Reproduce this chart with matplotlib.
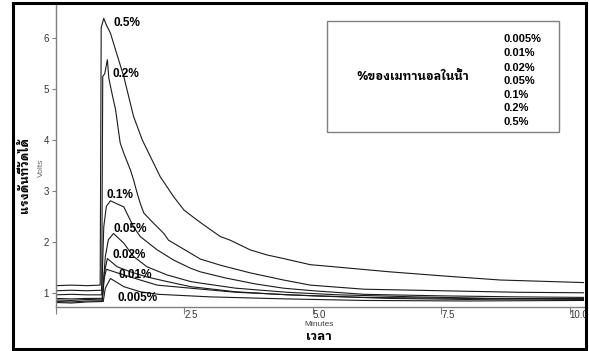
import matplotlib
matplotlib.use("Agg")
import matplotlib.pyplot as plt
from matplotlib.patches import Rectangle

# methanol concentration in water, one trace each (time in minutes, signal in volts)
labels = ["0.005%", "0.01%", "0.02%", "0.05%", "0.1%", "0.2%", "0.5%"]

t_0005 = [0, 0.3, 0.6, 0.92, 0.96, 1.06, 1.32, 1.64, 2.0, 3.0, 4.5, 6.0, 8.0, 10.28]
v_0005 = [0.82, 0.81, 0.83, 0.84, 1.1, 1.29, 1.13, 1.03, 0.98, 0.93, 0.89, 0.86, 0.85, 0.86]

t_001 = [0, 0.3, 0.6, 0.9, 0.94, 0.98, 1.32, 1.64, 1.97, 2.62, 3.5, 5.0, 6.5, 8.0, 10.28]
v_001 = [0.84, 0.83, 0.85, 0.85, 1.3, 1.47, 1.36, 1.26, 1.16, 1.1, 1.02, 0.95, 0.9, 0.88, 0.9]

t_002 = [0, 0.3, 0.6, 0.9, 0.94, 1.0, 1.19, 1.45, 1.77, 2.16, 2.62, 3.5, 4.5, 6.0, 8.0, 10.28]
v_002 = [0.87, 0.86, 0.88, 0.87, 1.4, 1.68, 1.52, 1.42, 1.32, 1.23, 1.13, 1.03, 0.97, 0.92, 0.9, 0.88]

t_005 = [0, 0.3, 0.6, 0.9, 0.93, 0.96, 1.02, 1.12, 1.32, 1.51, 1.77, 2.16, 2.62, 2.81, 3.5, 4.5, 5.5, 7.0, 8.5, 10.28]
v_005 = [0.9, 0.89, 0.9, 0.9, 1.3, 1.72, 2.05, 2.17, 1.98, 1.72, 1.52, 1.36, 1.23, 1.2, 1.1, 1.02, 0.97, 0.93, 0.9, 0.89]

t_01 = [0, 0.3, 0.6, 0.89, 0.93, 0.98, 1.06, 1.32, 1.51, 1.64, 1.97, 2.29, 2.62, 2.81, 3.3, 3.9, 4.43, 5.0, 6.0, 7.5, 9.0, 10.28]
v_01 = [0.97, 0.98, 0.97, 0.97, 2.3, 2.7, 2.81, 2.69, 2.3, 2.11, 1.85, 1.65, 1.49, 1.42, 1.3, 1.18, 1.1, 1.05, 0.98, 0.95, 0.93, 0.92]

t_02 = [0, 0.3, 0.6, 0.89, 0.91, 0.95, 1.0, 1.03, 1.09, 1.16, 1.25, 1.32, 1.45, 1.51, 1.58, 1.64, 1.71, 1.9, 2.1, 2.19,
        2.81, 3.2, 3.78, 4.43, 4.95, 6.0, 7.5, 9.0, 10.28]
v_02 = [1.05, 1.06, 1.05, 1.06, 5.24, 5.3, 5.57, 5.2, 4.91, 4.59, 3.94, 3.74, 3.41, 3.22, 2.96, 2.76, 2.57, 2.37, 2.17, 2.04,
        1.67, 1.55, 1.4, 1.26, 1.16, 1.08, 1.05, 1.02, 1.01]

t_05 = [0, 0.3, 0.6, 0.86, 0.88, 0.93, 0.98, 1.06, 1.16, 1.32, 1.51, 1.68, 1.84, 2.03, 2.29, 2.49, 2.75, 3.0, 3.2, 3.39,
        3.78, 4.11, 4.43, 4.95, 5.4, 6.5, 7.67, 8.65, 10.28]
v_05 = [1.15, 1.16, 1.15, 1.16, 6.2, 6.38, 6.25, 6.09, 5.76, 5.24, 4.46, 4.0, 3.67, 3.28, 2.89, 2.63, 2.43, 2.25, 2.11, 2.04,
        1.85, 1.75, 1.68, 1.56, 1.52, 1.42, 1.33, 1.26, 1.21]

series_t = [t_0005, t_001, t_002, t_005, t_01, t_02, t_05]
series_v = [v_0005, v_001, v_002, v_005, v_01, v_02, v_05]

# where each trace's label sits (data coords)
label_pos = [(1.20, 0.91), (1.22, 1.36), (1.10, 1.75), (1.12, 2.26), (0.98, 2.92), (1.10, 5.29), (1.12, 6.29)]

xticks = [0, 2.5, 5.0, 7.5, 10.0]
xticklabels = ["", "2.5", "5.0", "7.5", "10.0"]
yticks = [1, 2, 3, 4, 5, 6]

thai = ['IBM Plex Sans Thai Looped', 'Loma', 'Noto Sans Thai Looped', 'Liberation Sans', 'DejaVu Sans']
latin = ['Liberation Sans', 'DejaVu Sans']


def main():
    W, H = 589, 351
    fig = plt.figure(figsize=(W / 100, H / 100), dpi=100)
    ax = fig.add_axes([56 / W, 1 - 307 / H, 528 / W, 303 / H])

    for t, v in zip(series_t, series_v):
        ax.plot(t, v, color='#1a1a1a', linewidth=0.8)

    for lab, (x, y) in zip(labels, label_pos):
        ax.text(x, y, lab, ha='left', va='center', fontsize=8.5, fontweight='bold', family=latin)

    ax.set_xlim(0, 10.28)
    ax.set_ylim(0.732, 6.66)
    ax.set_xticks(xticks)
    ax.set_xticklabels(xticklabels, ha='left', family=latin, fontsize=7, color='#333333')
    ax.set_yticks(yticks)
    ax.set_yticklabels([str(y) for y in yticks], family=latin, fontsize=7, color='#333333')
    ax.tick_params(axis='x', direction='out', length=5, width=0.8, color='#808080', pad=-3)
    ax.tick_params(axis='y', direction='out', length=3, width=0.8, color='#808080', pad=2)
    for s in ['top', 'right']:
        ax.spines[s].set_visible(False)
    for s in ['left', 'bottom']:
        ax.spines[s].set_color('#808080')
        ax.spines[s].set_linewidth(1.0)

    # axis titles
    fig.text(319 / W, 1 - 325 / H, "Minutes", ha='center', va='center', fontsize=6, color='#444444', family=latin)
    fig.text(319 / W, 1 - 337 / H, "เวลา", ha='center', va='center', fontsize=9, fontweight='bold', family=thai)
    fig.text(25 / W, 1 - 175 / H, "แรงดันที่วัดได้", ha='center', va='center', rotation=90,
             fontsize=8.5, fontweight='bold', family=thai)
    fig.text(41 / W, 1 - 168 / H, "Volts", ha='center', va='center', rotation=90, fontsize=6,
             color='#666666', family=latin)

    # legend-like box
    fig.patches.append(Rectangle((327 / W, 1 - 132 / H), 232 / W, 111 / H, transform=fig.transFigure,
                                 fill=False, edgecolor='#808080', linewidth=1.0))
    fig.text(356 / W, 1 - 77 / H, "%ของเมทานอลในน้ำ", ha='left', va='center', fontsize=8.5,
             fontweight='bold', family=thai)
    legend_y = [39.3, 53.3, 68.3, 80.7, 95, 108.3, 121.7]
    for lab, y in zip(labels, legend_y):
        fig.text(504 / W, 1 - y / H, lab, ha='left', va='center', fontsize=8, fontweight='bold', family=latin)

    # outer frame
    fig.patches.append(Rectangle((12.5 / W, 1 - 349 / H), 573 / W, 346 / H, transform=fig.transFigure,
                                 fill=False, edgecolor='black', linewidth=2.2))

    fig.savefig("out.png", dpi=100)


if __name__ == "__main__":
    main()
